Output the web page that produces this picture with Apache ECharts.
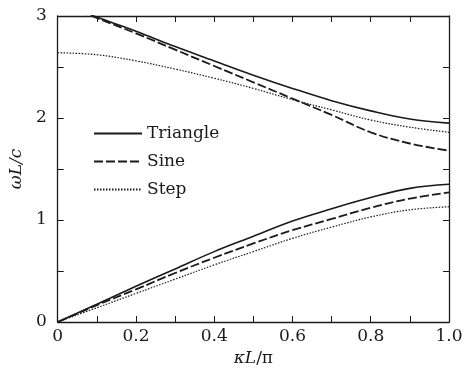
<!DOCTYPE html>
<html>
<head>
<meta charset="utf-8">
<script src="https://cdn.jsdelivr.net/npm/echarts@6/dist/echarts.min.js"></script>
<style>
  html, body { margin: 0; padding: 0; background: #fff; }
  #chart { width: 467px; height: 372px; }
</style>
</head>
<body>
<div id="chart"></div>
<script>
// kappa L / pi sample points
const kx = [0, 0.1, 0.2, 0.3, 0.4, 0.5, 0.6, 0.7, 0.8, 0.9, 1.0];

// lower bands
const triangleLow = [0, 0.175, 0.35, 0.52, 0.69, 0.84, 0.99, 1.11, 1.22, 1.31, 1.35];
const sineLow = [0, 0.165, 0.32, 0.48, 0.63, 0.77, 0.90, 1.01, 1.12, 1.21, 1.27];
const stepLow = [0, 0.14, 0.28, 0.42, 0.56, 0.69, 0.82, 0.93, 1.03, 1.10, 1.13];

// upper bands (clipped at 3 near kL/pi = 0.1)
const triangleUp = [3.15, 2.99, 2.85, 2.70, 2.56, 2.42, 2.29, 2.17, 2.07, 1.99, 1.95];
const sineUp = [3.14, 2.98, 2.83, 2.67, 2.51, 2.35, 2.19, 2.03, 1.86, 1.75, 1.68];
const stepUp = [2.64, 2.62, 2.56, 2.48, 2.39, 2.29, 2.18, 2.08, 1.98, 1.91, 1.86];

const font = 'DejaVu Serif';
const ink = '#1a1a1a';

const pairs = (ys) => kx.map((x, i) => [x, ys[i]]);

const styles = {
  Triangle: { type: 'solid', width: 1.6 },
  Sine: { type: [9, 3], width: 1.8 },
  Step: { type: [1.5, 1.5], width: 1.2 }
};

const mk = (name, ys) => ({
  name: name,
  type: 'line',
  data: pairs(ys),
  smooth: 0.4,
  showSymbol: false,
  symbol: 'none',
  clip: true,
  lineStyle: Object.assign({ color: ink }, styles[name]),
  itemStyle: { color: ink },
  emphasis: { disabled: true }
});

const chart = echarts.init(document.getElementById('chart'));

const tickStyle = { show: true, inside: true, length: 6, lineStyle: { color: ink, width: 1 } };
const axisLine = { show: true, onZero: false, lineStyle: { color: ink, width: 1.3 } };

const option = {
  animation: false,
  backgroundColor: '#fff',
  grid: { left: 50, right: 18, top: 16, bottom: 50 },
  legend: {
    orient: 'vertical',
    left: 88,
    top: 120,
    itemWidth: 48,
    itemHeight: 14,
    itemGap: 11,
    data: ['Triangle', 'Sine', 'Step'],
    itemStyle: { color: 'transparent', borderWidth: 0, opacity: 0 },
    textStyle: { fontFamily: font, fontSize: 17, color: ink }
  },
  xAxis: [
    {
      type: 'value',
      min: 0,
      max: 1,
      interval: 0.1,
      name: '{i|κL}/π',
      nameLocation: 'middle',
      nameGap: 22,
      nameTextStyle: {
        fontFamily: font, fontSize: 17, color: ink,
        rich: { i: { fontFamily: font, fontSize: 17, fontStyle: 'italic', color: ink } }
      },
      axisLine: axisLine,
      axisTick: tickStyle,
      splitLine: { show: false },
      axisLabel: {
        fontFamily: font, fontSize: 17, color: ink, margin: 6,
        formatter: (v) => {
          const t = Math.round(v * 10);
          if (t % 2 !== 0) return '';
          return t === 0 ? '0' : (t / 10).toFixed(1);
        }
      }
    },
    {
      type: 'value', position: 'top', min: 0, max: 1, interval: 0.1,
      axisLine: axisLine, axisTick: tickStyle,
      axisLabel: { show: false }, splitLine: { show: false }
    }
  ],
  yAxis: [
    {
      type: 'value',
      min: 0,
      max: 3,
      interval: 0.5,
      name: 'ωL/c',
      nameLocation: 'middle',
      nameGap: 24,
      nameTextStyle: { fontFamily: font, fontSize: 17, fontStyle: 'italic', color: ink },
      axisLine: axisLine,
      axisTick: tickStyle,
      splitLine: { show: false },
      axisLabel: {
        fontFamily: font, fontSize: 17, color: ink, margin: 11,
        formatter: (v) => (Number.isInteger(v) ? String(v) : '')
      }
    },
    {
      type: 'value', position: 'right', min: 0, max: 3, interval: 0.5,
      axisLine: axisLine, axisTick: tickStyle,
      axisLabel: { show: false }, splitLine: { show: false }
    }
  ],
  series: [
    mk('Triangle', triangleUp),
    mk('Sine', sineUp),
    mk('Step', stepUp),
    mk('Triangle', triangleLow),
    mk('Sine', sineLow),
    mk('Step', stepLow)
  ]
};

chart.setOption(option);
window.addEventListener('resize', () => {
  chart.resize();
});
</script>
</body>
</html>
